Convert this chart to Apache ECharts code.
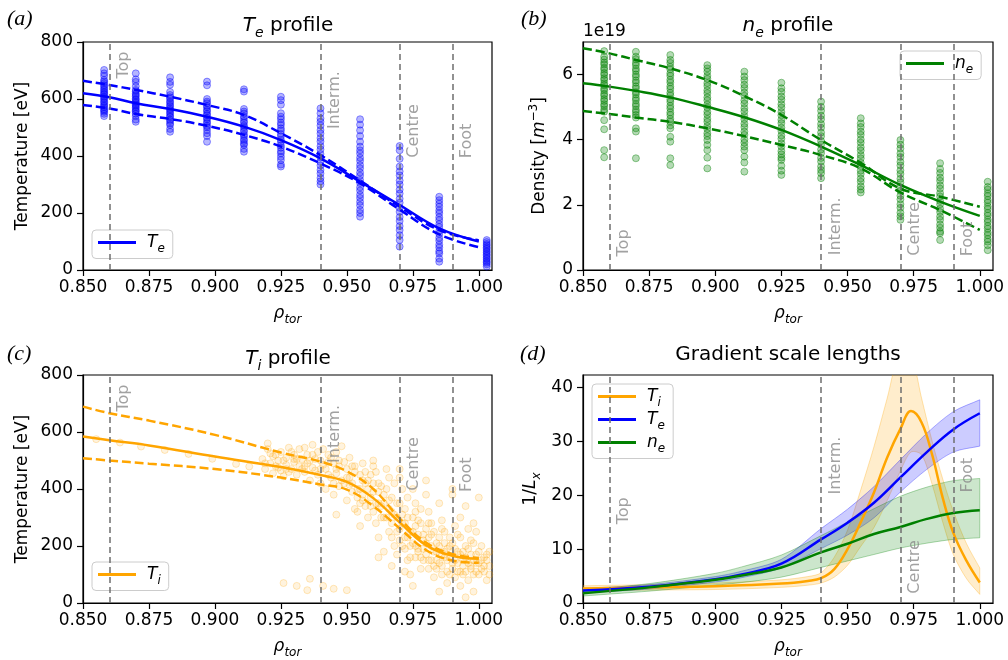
<!DOCTYPE html>
<html>
<head>
<meta charset="utf-8">
<script src="https://cdn.jsdelivr.net/npm/echarts@6.0.0/dist/echarts.min.js"></script>
<style>html,body{margin:0;padding:0;background:#fff}#chart{width:1008px;height:660px}</style>
</head>
<body>
<div id="chart"></div>
<script>
const FONT = 'DejaVu Sans';
const BLUE = '#0000ff', GREEN = '#008000', ORANGE = '#ffa500';

// ticks
const rhoTicks = [0.85, 0.875, 0.9, 0.925, 0.95, 0.975, 1.0];
const tempTicks = [0, 200, 400, 600, 800];
const densTicks = [0, 2, 4, 6];
const gradTicks = [0, 10, 20, 30, 40];

// pedestal regions
const regionX = [0.86, 0.94, 0.97, 0.99];
const regionNames = ['Top', 'Interm.', 'Centre', 'Foot'];
// centre of each rotated label, in data units of the panel
const regionLabelY = [
  [719, 596, 488, 453],
  [0.83, 1.34, 1.26, 0.95],
  [719, 593, 488, 450],
  [17.1, 25.5, 6.7, 23.7]
];

// (a) Te measurements, one column per radial channel
const teColX = [0.858, 0.870, 0.883, 0.897, 0.911, 0.925, 0.940, 0.955, 0.970, 0.985, 1.003];
const teCols = [
  [702, 690, 681, 667, 661, 655, 648, 643, 636, 631, 625, 620, 616, 609, 604, 599, 592, 588, 581, 576, 571, 564, 560, 555, 548, 540],
  [690, 669, 660, 645, 632, 627, 619, 614, 609, 601, 597, 591, 586, 580, 576, 571, 565, 559, 556, 548, 540, 528, 520],
  [676, 660, 650, 625, 614, 606, 601, 592, 587, 579, 574, 566, 561, 554, 549, 541, 537, 528, 523, 515, 509, 495, 485],
  [661, 648, 600, 591, 585, 576, 571, 562, 557, 548, 543, 534, 529, 520, 515, 506, 501, 491, 480, 470, 450],
  [634, 626, 565, 556, 549, 539, 533, 523, 517, 507, 501, 491, 485, 475, 469, 459, 453, 444, 439, 425, 415],
  [608, 596, 580, 550, 538, 529, 517, 509, 497, 489, 477, 469, 457, 449, 437, 429, 417, 409, 397, 386, 370, 363],
  [567, 550, 532, 520, 507, 491, 479, 463, 451, 435, 423, 407, 395, 379, 367, 351, 339, 323, 311, 300],
  [529, 510, 490, 470, 450, 433, 420, 409, 394, 383, 368, 357, 342, 331, 316, 305, 290, 279, 264, 253, 239, 227, 211, 200, 187],
  [435, 420, 390, 363, 346, 332, 314, 300, 282, 268, 250, 236, 218, 204, 186, 172, 154, 140, 122, 105, 82],
  [257, 245, 233, 222, 209, 199, 185, 175, 161, 151, 137, 127, 113, 103, 89, 79, 66, 58, 40, 29],
  [105, 98, 91, 86, 79, 74, 67, 62, 55, 50, 43, 38, 31, 26, 20, 12]
];
const teFitX = [0.85, 0.86, 0.87, 0.883, 0.897, 0.911, 0.925, 0.94, 0.955, 0.97, 0.985, 1.0];
const teFit = [620, 606, 585, 565, 538, 503, 456, 392, 310, 228, 146, 100];
const teUp = [664, 649, 632, 608, 579, 544, 480, 403, 314, 222, 140, 104];
const teLo = [579, 567, 547, 530, 506, 474, 433, 374, 304, 212, 125, 80];

// (b) ne measurements (1e19 m^-3)
const neCols = [
  [6.72, 6.55, 6.46, 6.37, 6.31, 6.21, 6.15, 6.05, 5.99, 5.89, 5.83, 5.73, 5.67, 5.57, 5.51, 5.41, 5.35, 5.25, 5.19, 5.09, 5.03, 4.93, 4.86, 4.60, 4.32, 3.68, 3.46],
  [6.70, 6.55, 6.47, 6.36, 6.29, 6.18, 6.11, 6.00, 5.93, 5.82, 5.75, 5.64, 5.57, 5.46, 5.39, 5.28, 5.21, 5.10, 5.03, 4.92, 4.85, 4.76, 4.68, 4.35, 4.25, 3.43],
  [6.60, 6.45, 6.36, 6.24, 6.16, 6.04, 5.96, 5.84, 5.76, 5.64, 5.56, 5.44, 5.36, 5.24, 5.16, 5.04, 4.96, 4.84, 4.76, 4.64, 4.56, 4.44, 4.35, 4.09, 3.94, 3.43, 3.22],
  [6.29, 6.19, 6.09, 5.96, 5.87, 5.74, 5.65, 5.52, 5.43, 5.30, 5.21, 5.08, 4.99, 4.86, 4.77, 4.64, 4.55, 4.42, 4.33, 4.20, 4.11, 3.99, 3.84, 3.68, 3.45, 3.12],
  [6.09, 5.94, 5.83, 5.69, 5.59, 5.45, 5.35, 5.21, 5.11, 4.97, 4.87, 4.73, 4.63, 4.49, 4.39, 4.25, 4.15, 4.01, 3.91, 3.79, 3.68, 3.48, 3.30, 3.02],
  [5.75, 5.58, 5.47, 5.33, 5.23, 5.09, 4.99, 4.85, 4.75, 4.61, 4.51, 4.37, 4.27, 4.13, 4.03, 3.89, 3.79, 3.65, 3.55, 3.45, 3.38, 3.20, 3.05, 2.92],
  [5.17, 5.01, 4.89, 4.74, 4.63, 4.48, 4.37, 4.22, 4.11, 3.96, 3.85, 3.70, 3.59, 3.44, 3.33, 3.18, 3.07, 2.97, 2.82],
  [4.66, 4.50, 4.39, 4.25, 4.15, 4.01, 3.91, 3.77, 3.67, 3.53, 3.43, 3.29, 3.19, 3.05, 2.95, 2.81, 2.71, 2.57, 2.47, 2.38],
  [3.99, 3.85, 3.73, 3.58, 3.47, 3.32, 3.21, 3.06, 2.95, 2.80, 2.69, 2.54, 2.43, 2.28, 2.17, 2.02, 1.91, 1.76, 1.65, 1.54],
  [3.28, 3.10, 2.98, 2.84, 2.74, 2.60, 2.50, 2.36, 2.26, 2.12, 2.02, 1.88, 1.78, 1.64, 1.54, 1.40, 1.30, 1.18, 1.13, 0.92],
  [2.71, 2.55, 2.47, 2.35, 2.27, 2.15, 2.07, 1.95, 1.87, 1.75, 1.67, 1.55, 1.47, 1.35, 1.27, 1.15, 1.07, 0.95, 0.87, 0.76, 0.61]
];
const neFit = [5.73, 5.63, 5.50, 5.30, 5.01, 4.69, 4.30, 3.79, 3.22, 2.61, 2.10, 1.66];
const neUp = [6.81, 6.65, 6.45, 6.19, 5.83, 5.34, 4.76, 3.99, 3.29, 2.50, 2.25, 1.94];
const neLo = [4.88, 4.79, 4.68, 4.55, 4.35, 4.11, 3.84, 3.53, 3.12, 2.38, 1.84, 1.23];

// (c) Ti measurements [rho, eV]
const tiPts = [
  [0.855, 575], [0.864, 563], [0.872, 549], [0.881, 537], [0.890, 523], [0.899, 506], [0.908, 488], [0.913, 479],
  [0.918, 505], [0.919, 470], [0.920, 540], [0.921, 490], [0.922, 455], [0.922, 515], [0.923, 480], [0.920, 560],
  [0.924, 500], [0.925, 530], [0.925, 465], [0.926, 445], [0.927, 510], [0.927, 485], [0.928, 545], [0.926, 70],
  [0.929, 470], [0.930, 520], [0.930, 495], [0.931, 450], [0.932, 540], [0.932, 480], [0.933, 505], [0.931, 60],
  [0.934, 460], [0.935, 520], [0.935, 490], [0.936, 430], [0.937, 555], [0.937, 475], [0.938, 505], [0.935, 45], [0.936, 85],
  [0.939, 450], [0.940, 500], [0.940, 420], [0.941, 540], [0.942, 470], [0.942, 400], [0.943, 520], [0.941, 60],
  [0.944, 440], [0.945, 490], [0.945, 380], [0.946, 530], [0.946, 455], [0.947, 410], [0.948, 550], [0.947, 480], [0.946, 310], [0.945, 50],
  [0.949, 420], [0.950, 470], [0.950, 360], [0.951, 510], [0.951, 440], [0.952, 390], [0.953, 330], [0.952, 480], [0.950, 45],
  [0.954, 400], [0.955, 450], [0.955, 350], [0.956, 490], [0.956, 380], [0.957, 420], [0.958, 300], [0.957, 460], [0.954, 320],
  [0.959, 370], [0.960, 420], [0.960, 320], [0.961, 460], [0.961, 280], [0.962, 390], [0.963, 340], [0.962, 230], [0.960, 480],
  [0.964, 350], [0.965, 300], [0.965, 400], [0.966, 250], [0.966, 440], [0.967, 320], [0.968, 200], [0.967, 370], [0.965, 470], [0.964, 180],
  [0.969, 300], [0.970, 260], [0.970, 350], [0.971, 200], [0.971, 400], [0.972, 280], [0.973, 150], [0.972, 330], [0.970, 440], [0.973, 230], [0.969, 170],
  [0.974, 250], [0.975, 210], [0.975, 300], [0.976, 160], [0.976, 350], [0.977, 240], [0.978, 120], [0.977, 190], [0.975, 400], [0.974, 100], [0.978, 280],
  [0.979, 220], [0.980, 170], [0.980, 260], [0.981, 120], [0.981, 320], [0.982, 200], [0.983, 90], [0.982, 150], [0.980, 380], [0.979, 240], [0.983, 250],
  [0.984, 180], [0.985, 140], [0.985, 230], [0.986, 100], [0.986, 290], [0.987, 160], [0.988, 70], [0.987, 210], [0.985, 350], [0.984, 120], [0.988, 190],
  [0.989, 160], [0.990, 120], [0.990, 210], [0.991, 90], [0.991, 270], [0.992, 140], [0.993, 60], [0.992, 180], [0.990, 380], [0.989, 100], [0.993, 230],
  [0.994, 150], [0.995, 110], [0.995, 200], [0.996, 80], [0.996, 260], [0.997, 130], [0.998, 40], [0.997, 170], [0.995, 340], [0.994, 100], [0.998, 210],
  [0.999, 140], [1.000, 100], [1.000, 180], [1.001, 120], [1.002, 160], [1.003, 80], [1.004, 130], [1.001, 200], [1.003, 150], [0.999, 250], [1.000, 370],
  [0.921, 525], [0.924, 475], [0.926, 500], [0.928, 460], [0.929, 530], [0.931, 505], [0.933, 470], [0.934, 545], [0.936, 500], [0.938, 465],
  [0.939, 530], [0.941, 485], [0.943, 450], [0.944, 510], [0.946, 470], [0.948, 430], [0.949, 495], [0.951, 415], [0.953, 460], [0.954, 370],
  [0.956, 430], [0.957, 340], [0.958, 400], [0.959, 450], [0.961, 350], [0.962, 420], [0.963, 300], [0.964, 380], [0.966, 330], [0.967, 280],
  [0.968, 420], [0.969, 250], [0.971, 310], [0.972, 230], [0.973, 370], [0.974, 200], [0.976, 270], [0.977, 180], [0.978, 330], [0.979, 150],
  [0.981, 230], [0.982, 280], [0.983, 130], [0.984, 210], [0.986, 170], [0.987, 250], [0.988, 110], [0.989, 200], [0.991, 150], [0.992, 240],
  [0.993, 110], [0.994, 180], [0.996, 140], [0.997, 220], [0.998, 100], [0.999, 170], [1.001, 150], [1.002, 110], [1.004, 180], [1.004, 100],
  [0.960, 500], [0.970, 470], [0.980, 430], [0.990, 400], [0.975, 60], [0.985, 40], [0.995, 20], [0.967, 130], [0.972, 110], [0.955, 270], [0.962, 160],
  [0.919, 490], [0.923, 520], [0.927, 470], [0.930, 505], [0.934, 480], [0.937, 520], [0.940, 470], [0.943, 495], [0.945, 420], [0.947, 500],
  [0.950, 440], [0.952, 420], [0.953, 480], [0.955, 400], [0.956, 360], [0.958, 430], [0.959, 340], [0.960, 390], [0.962, 350], [0.963, 410],
  [0.964, 300], [0.966, 360], [0.967, 230], [0.968, 310], [0.969, 350], [0.970, 220], [0.971, 280], [0.972, 190], [0.973, 300], [0.974, 160],
  [0.975, 250], [0.976, 200], [0.977, 290], [0.978, 160], [0.979, 190], [0.980, 210], [0.981, 150], [0.982, 240], [0.983, 180], [0.984, 150],
  [0.985, 200], [0.986, 130], [0.987, 180], [0.988, 150], [0.989, 230], [0.990, 140], [0.991, 190], [0.992, 110], [0.993, 170], [0.994, 130],
  [0.995, 160], [0.996, 190], [0.997, 120], [0.998, 150], [0.999, 110], [1.000, 140], [1.002, 130], [1.003, 170], [0.976, 320], [0.981, 280],
  [0.986, 260], [0.993, 300], [0.998, 280]
];
const tiFitX = [0.85, 0.86, 0.875, 0.9, 0.925, 0.94, 0.95, 0.96, 0.97, 0.98, 0.99, 1.0];
const tiFit = [584, 571, 553, 514, 477, 449, 425, 368, 283, 203, 166, 155];
const tiUp = [689, 666, 640, 590, 528, 496, 462, 400, 297, 212, 172, 158];
const tiLo = [508, 500, 489, 470, 440, 416, 398, 340, 262, 186, 149, 141];

// (d) inverse gradient scale lengths
const gX = [0.85, 0.875, 0.9, 0.91, 0.925, 0.94, 0.95, 0.96, 0.97, 0.98, 0.99, 1.0];
const gTe = [2.3, 3.0, 4.4, 5.3, 7.3, 11.8, 14.9, 18.6, 23.3, 28.0, 32.2, 35.2];
const gTeUp = [2.7, 3.4, 4.9, 5.9, 8.1, 13.8, 17.4, 21.6, 26.6, 31.5, 35.5, 37.7];
const gTeLo = [1.9, 2.6, 3.9, 4.7, 6.5, 10.1, 12.6, 15.8, 20.6, 24.8, 28.0, 29.1];
const gNe = [1.8, 2.9, 4.3, 5.1, 6.6, 9.4, 11.0, 12.8, 14.1, 15.6, 16.7, 17.2];
const gNeUp = [2.4, 3.6, 5.5, 6.7, 8.9, 12.5, 15.0, 17.5, 19.8, 21.5, 22.7, 23.1];
const gNeLo = [1.3, 2.2, 3.3, 3.8, 4.8, 6.6, 7.8, 9.0, 10.2, 11.1, 11.8, 12.1];
const gTiX = [0.85, 0.875, 0.9, 0.925, 0.935, 0.94, 0.945, 0.95, 0.955, 0.96, 0.965, 0.97, 0.974, 0.978, 0.982, 0.986, 0.99, 0.995, 1.0];
const gTi = [2.7, 2.9, 3.1, 3.6, 4.1, 4.6, 6.3, 10.0, 15.0, 20.5, 27.0, 32.3, 35.6, 33.5, 27.5, 19.5, 13.0, 7.8, 3.8];
const gTiUp = [3.2, 3.4, 3.7, 4.3, 4.9, 5.6, 8.5, 13.5, 21.0, 29.0, 38.0, 47.0, 46.0, 38.0, 30.0, 23.0, 17.0, 11.0, 6.5];
const gTiLo = [2.2, 2.4, 2.5, 2.9, 3.3, 3.7, 4.8, 7.0, 10.5, 14.0, 19.0, 24.5, 28.0, 27.5, 22.0, 15.0, 9.0, 4.5, 1.6];

const pair = (xs, ys) => xs.map((x, i) => [x, ys[i]]);

function rich(size) {
  const lh = Math.round(size * 1.4);
  const small = Math.round(size * 0.7);
  return {
    n: { fontSize: size, fontFamily: FONT, color: '#000' },
    it: { fontSize: size, fontFamily: FONT, fontStyle: 'italic', color: '#000', lineHeight: lh },
    sub: { fontSize: small, fontFamily: FONT, fontStyle: 'italic', color: '#000', verticalAlign: 'bottom' },
    sup: { fontSize: small, fontFamily: FONT, color: '#000', verticalAlign: 'top' }
  };
}

const legendLabels = {
  Te_a: '{it|T}{sub|e}', ne_b: '{it|n}{sub|e}', Ti_c: '{it|T}{sub|i}',
  Ti_d: '{it|T}{sub|i}', Te_d: '{it|T}{sub|e}', ne_d: '{it|n}{sub|e}'
};

const gridBoxes = [
  { left: 83, top: 42, width: 409, height: 228 },
  { left: 583, top: 42, width: 410, height: 228 },
  { left: 83, top: 375, width: 409, height: 228 },
  { left: 583, top: 375, width: 410, height: 228 }
];

const yInfo = [
  { max: 800, ticks: tempTicks, name: 'Temperature [eV]', gap: 52 },
  { max: 7, ticks: densTicks, name: 'Density [{it|m}{sup|−3}]', gap: 31 },
  { max: 800, ticks: tempTicks, name: 'Temperature [eV]', gap: 52 },
  { max: 42.3, ticks: gradTicks, name: '1/{it|L}{sub|x}', gap: 40 }
];

const xAxes = gridBoxes.map((g, i) => ({
  gridIndex: i, type: 'value', min: 0.85, max: 1.005,
  name: '{it|ρ}{sub|tor}', nameLocation: 'middle', nameGap: 32,
  nameTextStyle: { fontSize: 17, fontFamily: FONT, color: '#000', rich: rich(17) },
  axisLine: { show: true, onZero: false, lineStyle: { color: '#000', width: 1.2 } },
  axisTick: { show: true, length: 6, customValues: rhoTicks, lineStyle: { color: '#000', width: 1.2 } },
  axisLabel: { customValues: rhoTicks, formatter: v => v.toFixed(3), fontSize: 17, fontFamily: FONT, color: '#000', margin: 9 },
  splitLine: { show: false }
}));

const yAxes = yInfo.map((y, i) => ({
  gridIndex: i, type: 'value', min: 0, max: y.max,
  name: y.name, nameLocation: 'middle', nameGap: y.gap,
  nameTextStyle: { fontSize: 17, fontFamily: FONT, color: '#000', rich: rich(17) },
  axisLine: { show: true, onZero: false, lineStyle: { color: '#000', width: 1.2 } },
  axisTick: { show: true, length: 6, customValues: y.ticks, lineStyle: { color: '#000', width: 1.2 } },
  axisLabel: { customValues: y.ticks, formatter: v => String(v), fontSize: 17, fontFamily: FONT, color: '#000', margin: 10 },
  splitLine: { show: false }
}));

function regionSeries(i) {
  return [{
    type: 'scatter', xAxisIndex: i, yAxisIndex: i, silent: true, symbolSize: 0, z: 6,
    data: regionX.map((x, k) => ({ value: [x + 0.0055, regionLabelY[i][k]], name: regionNames[k] })),
    label: { show: true, position: 'inside', rotate: 90, formatter: '{b}', color: '#8a8a8a', fontSize: 16, fontFamily: FONT },
    markLine: {
      silent: true, symbol: 'none', label: { show: false },
      lineStyle: { color: '#6e6e6e', type: [6, 4], width: 1.5 },
      data: regionX.map(x => ({ xAxis: x }))
    }
  }];
}

function pointsSeries(i, data, rgb, fillA, edgeA) {
  return {
    type: 'scatter', xAxisIndex: i, yAxisIndex: i, silent: true, symbolSize: 7, z: 2,
    data: data,
    itemStyle: { color: 'rgba(' + rgb + ',' + fillA + ')', borderColor: 'rgba(' + rgb + ',' + edgeA + ')', borderWidth: 1 }
  };
}

function lineSeries(i, name, xs, ys, color, dashed) {
  return {
    type: 'line', name: name, xAxisIndex: i, yAxisIndex: i, data: pair(xs, ys),
    smooth: 0.4, showSymbol: false, silent: true, z: dashed ? 3 : 4,
    lineStyle: { color: color, width: 2.5, type: dashed ? [9, 4] : 'solid' },
    itemStyle: { color: color }
  };
}

// shaded uncertainty band drawn through the axes of grid i
function bandSeries(i, xs, lo, up, rgb) {
  return {
    type: 'custom', xAxisIndex: i, yAxisIndex: i, silent: true, z: 2, clip: true,
    data: [[xs[0], lo[0]]],
    renderItem: (params, api) => {
      const upper = xs.map((x, k) => api.coord([x, up[k]]));
      const lower = xs.map((x, k) => api.coord([x, lo[k]])).reverse();
      // doubled end points keep the band ends straight under smoothing
      const pts = [upper[0]].concat(upper, [upper[upper.length - 1]], [lower[0]], lower, [lower[lower.length - 1]]);
      return {
        type: 'polygon',
        shape: { points: pts, smooth: 0.3 },
        style: { fill: 'rgba(' + rgb + ',0.2)', stroke: 'rgba(' + rgb + ',0.3)', lineWidth: 1 }
      };
    }
  };
}

const tePts = teColX.flatMap((x, i) => teCols[i].map(v => [x, v]));
const nePts = teColX.flatMap((x, i) => neCols[i].map(v => [x, v]));

const series = [
  ...regionSeries(0),
  pointsSeries(0, tePts, '0,0,255', 0.36, 0.5),
  lineSeries(0, 'te_up', teFitX, teUp, BLUE, true),
  lineSeries(0, 'te_lo', teFitX, teLo, BLUE, true),
  lineSeries(0, 'Te_a', teFitX, teFit, BLUE, false),

  ...regionSeries(1),
  pointsSeries(1, nePts, '0,128,0', 0.36, 0.5),
  lineSeries(1, 'ne_up', teFitX, neUp, GREEN, true),
  lineSeries(1, 'ne_lo', teFitX, neLo, GREEN, true),
  lineSeries(1, 'ne_b', teFitX, neFit, GREEN, false),

  ...regionSeries(2),
  pointsSeries(2, tiPts, '255,165,0', 0.16, 0.3),
  lineSeries(2, 'ti_up', tiFitX, tiUp, ORANGE, true),
  lineSeries(2, 'ti_lo', tiFitX, tiLo, ORANGE, true),
  lineSeries(2, 'Ti_c', tiFitX, tiFit, ORANGE, false),

  ...regionSeries(3),
  bandSeries(3, gTiX, gTiLo, gTiUp, '255,165,0'),
  bandSeries(3, gX, gTeLo, gTeUp, '0,0,255'),
  bandSeries(3, gX, gNeLo, gNeUp, '0,128,0'),
  lineSeries(3, 'Ti_d', gTiX, gTi, ORANGE, false),
  lineSeries(3, 'Te_d', gX, gTe, BLUE, false),
  lineSeries(3, 'ne_d', gX, gNe, GREEN, false)
];

const legendBase = {
  icon: 'rect', itemWidth: 38, itemHeight: 3, itemGap: 2.5, selectedMode: false,
  backgroundColor: 'rgba(255,255,255,0.8)', borderColor: '#cccccc', borderWidth: 1, borderRadius: 4,
  padding: [4, 8, 4, 6],
  formatter: name => legendLabels[name],
  textStyle: { fontSize: 17, fontFamily: FONT, color: '#000', padding: [0, 0, 0, 6], rich: rich(17) }
};

const legends = [
  Object.assign({}, legendBase, { left: 92, top: 230, data: ['Te_a'] }),
  Object.assign({}, legendBase, { left: 900, top: 51, data: ['ne_b'] }),
  Object.assign({}, legendBase, { left: 92, top: 562, data: ['Ti_c'] }),
  Object.assign({}, legendBase, { left: 592, top: 384, orient: 'vertical', data: ['Ti_d', 'Te_d', 'ne_d'] })
];

function titleText(x, y, text) {
  return {
    type: 'text', x: x, y: y, silent: true,
    style: { text: text, align: 'center', verticalAlign: 'top', fontSize: 20, fontFamily: FONT, fill: '#000', rich: rich(20) }
  };
}
function panelTag(x, y, text) {
  return {
    type: 'text', x: x, y: y, silent: true,
    style: { text: text, fontSize: 22, fontFamily: 'Liberation Serif', fontStyle: 'italic', fill: '#000' }
  };
}

const chart = echarts.init(document.getElementById('chart'), null, { renderer: 'canvas' });
chart.setOption({
  animation: false,
  backgroundColor: '#ffffff',
  grid: gridBoxes.map(g => Object.assign({ show: true, borderColor: '#000', borderWidth: 1.2, backgroundColor: 'transparent', outerBoundsMode: 'none' }, g)),
  xAxis: xAxes,
  yAxis: yAxes,
  legend: legends,
  series: series,
  graphic: [
    panelTag(7, 8, '(a)'),
    panelTag(521, 8, '(b)'),
    panelTag(7, 343, '(c)'),
    panelTag(520, 343, '(d)'),
    titleText(288, 12, '{it|T}{sub|e}{n| profile}'),
    titleText(788, 12, '{it|n}{sub|e}{n| profile}'),
    titleText(288, 345, '{it|T}{sub|i}{n| profile}'),
    titleText(788, 345, '{n|Gradient scale lengths}'),
    { type: 'text', x: 583, y: 23, silent: true, style: { text: '1e19', fontSize: 17, fontFamily: FONT, fill: '#000' } }
  ]
});
</script>
</body>
</html>
